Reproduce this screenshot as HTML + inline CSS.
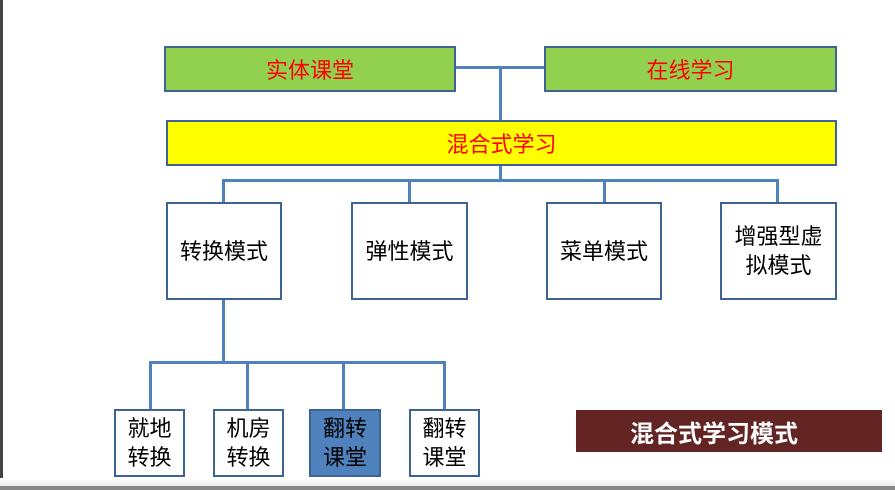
<!DOCTYPE html>
<html><head><meta charset="utf-8"><style>
body{margin:0;width:895px;height:490px;background:#fff;position:relative;overflow:hidden;font-family:"Liberation Sans","Noto Sans CJK SC",sans-serif}
div{position:absolute;box-sizing:border-box}
.b{border:2.5px solid #3c6494;display:flex;align-items:center;justify-content:center;text-align:center}
.w{background:#fff;color:#000;font-size:22px;line-height:29px}
.l{background:#4f81bd}
</style></head><body>
<div style="left:0;top:0;width:3px;height:490px;background:#444"></div>
<div style="left:0;top:486px;width:895px;height:4px;background:#888"></div>
<div style="left:0;top:478px;width:895px;height:8px;background:linear-gradient(#fff,#eee)"></div>
<!-- lines -->
<div class="l" style="left:455px;top:66px;width:89px;height:3px"></div>
<div class="l" style="left:499px;top:66px;width:3px;height:56px"></div>
<div class="l" style="left:499px;top:164px;width:3px;height:18px"></div>
<div class="l" style="left:222px;top:179px;width:557px;height:3px"></div>
<div class="l" style="left:222px;top:179px;width:3px;height:24px"></div>
<div class="l" style="left:408px;top:179px;width:3px;height:24px"></div>
<div class="l" style="left:603px;top:179px;width:3px;height:24px"></div>
<div class="l" style="left:776px;top:179px;width:3px;height:24px"></div>
<div class="l" style="left:222px;top:298px;width:3px;height:65px"></div>
<div class="l" style="left:149px;top:361px;width:297px;height:3px"></div>
<div class="l" style="left:149px;top:361px;width:3px;height:49px"></div>
<div class="l" style="left:246px;top:361px;width:3px;height:49px"></div>
<div class="l" style="left:342px;top:361px;width:3px;height:49px"></div>
<div class="l" style="left:443px;top:361px;width:3px;height:49px"></div>
<!-- top -->
<div class="b" style="left:164px;top:46px;width:292px;height:46px;background:#92d050;color:#f00;font-size:22px">实体课堂</div>
<div class="b" style="left:544px;top:46px;width:293px;height:46px;background:#92d050;color:#f00;font-size:22px">在线学习</div>
<div class="b" style="left:166px;top:120px;width:671px;height:46px;background:#ff0;color:#f00;font-size:22px">混合式学习</div>
<div class="b w" style="left:166px;top:202px;width:116px;height:98px">转换模式</div>
<div class="b w" style="left:351px;top:202px;width:117px;height:98px">弹性模式</div>
<div class="b w" style="left:546px;top:202px;width:116px;height:98px">菜单模式</div>
<div class="b w" style="left:720px;top:202px;width:117px;height:98px">增强型虚<br>拟模式</div>
<div class="b w" style="left:114px;top:409px;width:71px;height:68px">就地<br>转换</div>
<div class="b w" style="left:213px;top:409px;width:71px;height:68px">机房<br>转换</div>
<div class="b w" style="left:309px;top:409px;width:72px;height:68px;background:#4f81bd">翻转<br>课堂</div>
<div class="b w" style="left:409px;top:409px;width:71px;height:68px">翻转<br>课堂</div>
<div style="left:576px;top:410px;width:306px;height:42px;background:#632523;color:#fff;font-size:24px;font-weight:bold;display:flex;align-items:center;justify-content:center;padding-right:30px">混合式学习模式</div>
</body></html>
